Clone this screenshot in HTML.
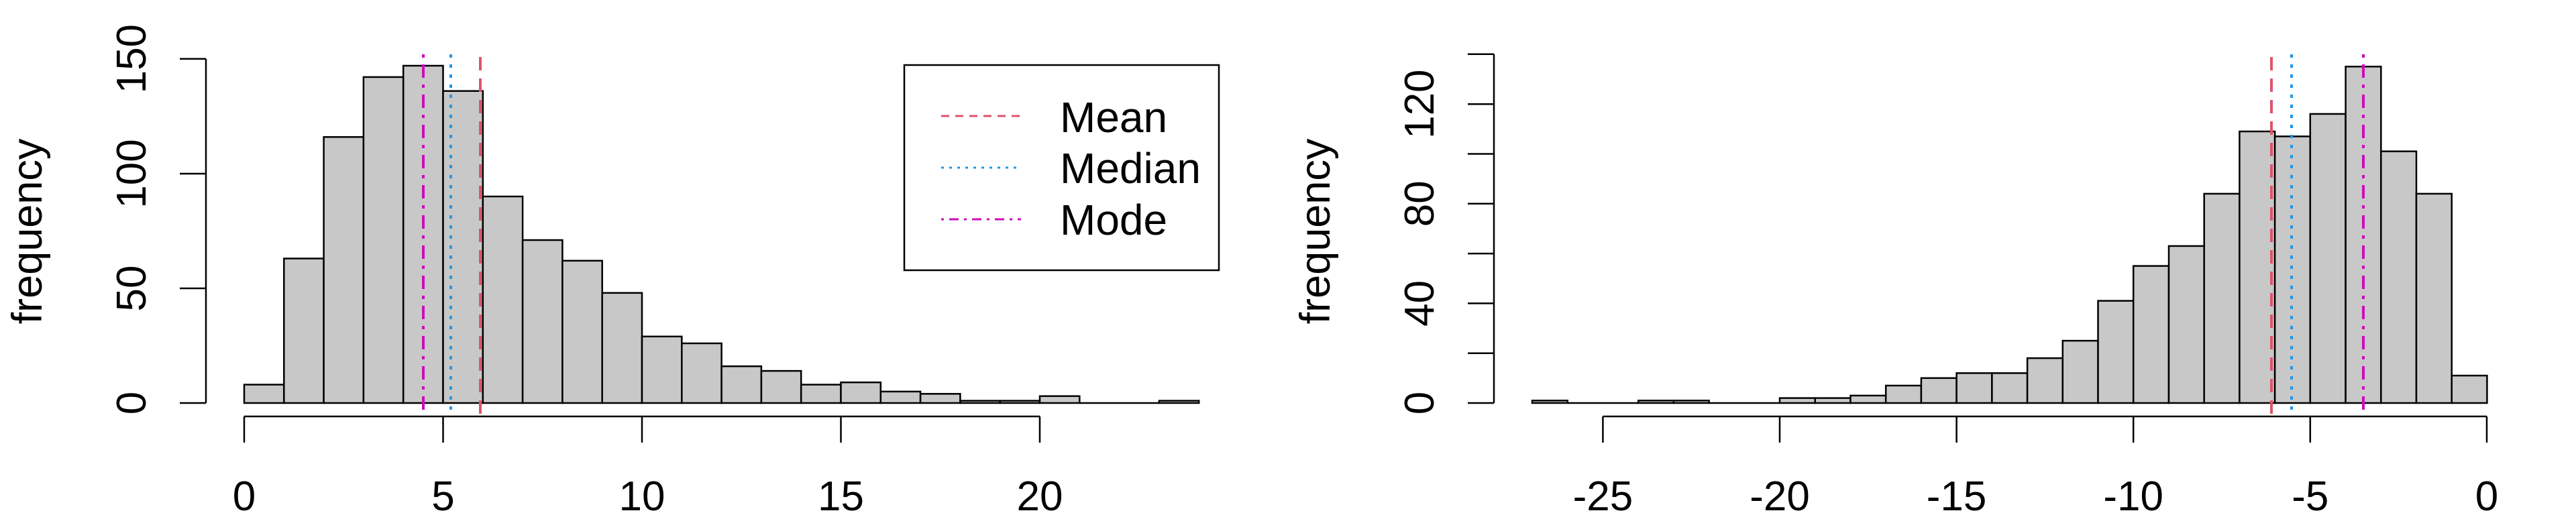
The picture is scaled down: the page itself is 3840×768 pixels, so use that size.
<!DOCTYPE html>
<html><head><meta charset="utf-8"><style>
html,body{margin:0;padding:0;background:#fff;}
svg{display:block;}
text{font-family:"Liberation Sans",Arial,sans-serif;fill:#000;}
</style></head><body>
<svg width="3840" height="768" viewBox="0 0 3840 768" xmlns="http://www.w3.org/2000/svg">
<g id="left">
<g fill="#C8C8C8" stroke="#000" stroke-width="2.5">
<rect x="364" y="573.6" width="59.3" height="27.4"/>
<rect x="423.3" y="385.5" width="59.3" height="215.5"/>
<rect x="482.6" y="204.3" width="59.3" height="396.7"/>
<rect x="541.9" y="114.9" width="59.3" height="486.1"/>
<rect x="601.2" y="98" width="59.3" height="503"/>
<rect x="660.5" y="135.7" width="59.3" height="465.3"/>
<rect x="719.8" y="293" width="59.3" height="308"/>
<rect x="779.1" y="358" width="59.3" height="243"/>
<rect x="838.4" y="388.8" width="59.3" height="212.2"/>
<rect x="897.7" y="436.8" width="59.3" height="164.2"/>
<rect x="957" y="501.8" width="59.3" height="99.2"/>
<rect x="1016.3" y="512" width="59.3" height="89"/>
<rect x="1075.6" y="546.2" width="59.3" height="54.8"/>
<rect x="1134.9" y="553.1" width="59.3" height="47.9"/>
<rect x="1194.2" y="573.6" width="59.3" height="27.4"/>
<rect x="1253.5" y="570.2" width="59.3" height="30.8"/>
<rect x="1312.8" y="583.9" width="59.3" height="17.1"/>
<rect x="1372.1" y="587.3" width="59.3" height="13.7"/>
<rect x="1431.4" y="597.6" width="59.3" height="3.4"/>
<rect x="1490.7" y="597.6" width="59.3" height="3.4"/>
<rect x="1550" y="590.7" width="59.3" height="10.3"/>
<rect x="1727.9" y="597.6" width="59.3" height="3.4"/>
<line x1="1609.3" y1="601" x2="1727.9" y2="601"/>
</g>
<g stroke="#000" stroke-width="2.5" fill="none">
<line x1="307" y1="87.7" x2="307" y2="601"/>
<line x1="268" y1="601" x2="307" y2="601"/>
<line x1="268" y1="430" x2="307" y2="430"/>
<line x1="268" y1="259" x2="307" y2="259"/>
<line x1="268" y1="87.7" x2="307" y2="87.7"/>
<line x1="364" y1="621" x2="1550" y2="621"/>
<line x1="364" y1="621" x2="364" y2="660"/>
<line x1="660.5" y1="621" x2="660.5" y2="660"/>
<line x1="957" y1="621" x2="957" y2="660"/>
<line x1="1253.5" y1="621" x2="1253.5" y2="660"/>
<line x1="1550" y1="621" x2="1550" y2="660"/>
</g>
<g font-size="62" text-anchor="middle">
<text transform="translate(217,601) rotate(-90)">0</text>
<text transform="translate(217,430) rotate(-90)">50</text>
<text transform="translate(217,259) rotate(-90)">100</text>
<text transform="translate(217,87.7) rotate(-90)">150</text>
<text x="364" y="761">0</text>
<text x="660.5" y="761">5</text>
<text x="957" y="761">10</text>
<text x="1253.5" y="761">15</text>
<text x="1550" y="761">20</text>
</g>
<text font-size="63" text-anchor="middle" transform="translate(62,345) rotate(-90)">frequency</text>
<line x1="716" y1="85" x2="716" y2="621" stroke="#DF536B" stroke-width="4" stroke-dasharray="20 12"/>
<line x1="672" y1="81" x2="672" y2="621" stroke="#2297E6" stroke-width="4" stroke-dasharray="5 10"/>
<line x1="631" y1="81" x2="631" y2="621" stroke="#CD0BBC" stroke-width="4" stroke-dasharray="5 10 20 10"/>
<rect x="1348" y="97" width="469" height="306" fill="none" stroke="#000" stroke-width="2.5"/>
<line x1="1403" y1="173" x2="1522" y2="173" stroke="#DF536B" stroke-width="3" stroke-dasharray="12 9"/>
<line x1="1403" y1="250" x2="1522" y2="250" stroke="#2297E6" stroke-width="3" stroke-dasharray="4 8"/>
<line x1="1403" y1="327" x2="1522" y2="327" stroke="#CD0BBC" stroke-width="3" stroke-dasharray="4 8 14 8"/>
<g font-size="64">
<text x="1580" y="197">Mean</text>
<text x="1580" y="273">Median</text>
<text x="1580" y="350">Mode</text>
</g>
</g>
<g id="right">
<g fill="#C8C8C8" stroke="#000" stroke-width="2.5">
<rect x="2284" y="597.3" width="52.72" height="3.7"/>
<line x1="2336.7" y1="601" x2="2442.2" y2="601"/>
<rect x="2442.2" y="597.3" width="52.72" height="3.7"/>
<rect x="2494.9" y="597.3" width="52.72" height="3.7"/>
<line x1="2547.6" y1="601" x2="2653" y2="601"/>
<rect x="2653" y="593.6" width="52.72" height="7.4"/>
<rect x="2705.8" y="593.6" width="52.72" height="7.4"/>
<rect x="2758.5" y="589.9" width="52.72" height="11.1"/>
<rect x="2811.2" y="575" width="52.72" height="26"/>
<rect x="2863.9" y="563.8" width="52.72" height="37.2"/>
<rect x="2916.6" y="556.4" width="52.72" height="44.6"/>
<rect x="2969.4" y="556.4" width="52.72" height="44.6"/>
<rect x="3022.1" y="534.1" width="52.72" height="66.9"/>
<rect x="3074.8" y="508.1" width="52.72" height="92.9"/>
<rect x="3127.5" y="448.6" width="52.72" height="152.4"/>
<rect x="3180.2" y="396.6" width="52.72" height="204.4"/>
<rect x="3233" y="366.9" width="52.72" height="234.1"/>
<rect x="3285.7" y="288.9" width="52.72" height="312.1"/>
<rect x="3338.4" y="196" width="52.72" height="405"/>
<rect x="3391.1" y="203.4" width="52.72" height="397.6"/>
<rect x="3443.8" y="169.9" width="52.72" height="431.1"/>
<rect x="3496.6" y="99.3" width="52.72" height="501.7"/>
<rect x="3549.3" y="225.7" width="52.72" height="375.3"/>
<rect x="3602" y="288.9" width="52.72" height="312.1"/>
<rect x="3654.7" y="560.1" width="52.72" height="40.9"/>
</g>
<g stroke="#000" stroke-width="2.5" fill="none">
<line x1="2227" y1="80.8" x2="2227" y2="601"/>
<line x1="2188" y1="601" x2="2227" y2="601"/>
<line x1="2188" y1="526.7" x2="2227" y2="526.7"/>
<line x1="2188" y1="452.4" x2="2227" y2="452.4"/>
<line x1="2188" y1="378.1" x2="2227" y2="378.1"/>
<line x1="2188" y1="303.8" x2="2227" y2="303.8"/>
<line x1="2188" y1="229.5" x2="2227" y2="229.5"/>
<line x1="2188" y1="155.2" x2="2227" y2="155.2"/>
<line x1="2188" y1="80.8" x2="2227" y2="80.8"/>
<line x1="2389.4" y1="621" x2="3707" y2="621"/>
<line x1="2389.4" y1="621" x2="2389.4" y2="660"/>
<line x1="2653" y1="621" x2="2653" y2="660"/>
<line x1="2916.6" y1="621" x2="2916.6" y2="660"/>
<line x1="3180.2" y1="621" x2="3180.2" y2="660"/>
<line x1="3443.8" y1="621" x2="3443.8" y2="660"/>
<line x1="3707" y1="621" x2="3707" y2="660"/>
</g>
<g font-size="62" text-anchor="middle">
<text transform="translate(2137,601) rotate(-90)">0</text>
<text transform="translate(2137,452.4) rotate(-90)">40</text>
<text transform="translate(2137,303.8) rotate(-90)">80</text>
<text transform="translate(2137,155.2) rotate(-90)">120</text>
<text x="2389.4" y="761">-25</text>
<text x="2653" y="761">-20</text>
<text x="2916.6" y="761">-15</text>
<text x="3180.2" y="761">-10</text>
<text x="3443.8" y="761">-5</text>
<text x="3707" y="761">0</text>
</g>
<text font-size="63" text-anchor="middle" transform="translate(1982,345) rotate(-90)">frequency</text>
<line x1="3386" y1="85" x2="3386" y2="621" stroke="#DF536B" stroke-width="4" stroke-dasharray="20 12"/>
<line x1="3416" y1="81" x2="3416" y2="621" stroke="#2297E6" stroke-width="4" stroke-dasharray="5 10"/>
<line x1="3523" y1="81" x2="3523" y2="621" stroke="#CD0BBC" stroke-width="4" stroke-dasharray="5 10 20 10"/>
</g>
</svg>
</body></html>
